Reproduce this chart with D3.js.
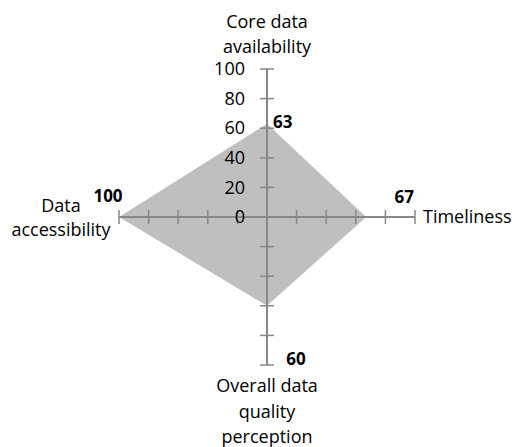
<!DOCTYPE html>
<html><head><meta charset="utf-8">
<script src="https://cdn.jsdelivr.net/npm/d3@7"></script>
<style>html,body{margin:0;padding:0;background:#fff;} svg{display:block;}</style>
</head><body>
<svg id="c" width="514" height="447"></svg>
<script>
const categories = ["Core data availability", "Timeliness", "Overall data quality perception", "Data accessibility"];
const categoryLines = [["Core data", "availability"], ["Timeliness"], ["Overall data", "quality", "perception"], ["Data", "accessibility"]];
const values = [63, 67, 60, 100];
const tickValues = [0, 20, 40, 60, 80, 100];
const tickLabels = ["0", "20", "40", "60", "80", "100"];

// layout / style config
const cx = 267, cy = 217, R = 148;
const font = "'Open Sans', sans-serif";
const labelOffsets = [[6, 4, "start"], [38, -14, "middle"], [29, 59, "middle"], [-11, -15, "middle"]];
const catLayout = [
  {dx: 0, dy: -41, anchor: "middle", lh: 24.5},
  {dx: 8, dy: 6, anchor: "start", lh: 25},
  {dx: 0, dy: 27, anchor: "middle", lh: 25.5},
  {dx: -58, dy: -5, anchor: "middle", lh: 23.5}
];

const svg = d3.select("#c");
const r = d3.scaleLinear().domain([0, 100]).range([0, R]);
const angle = d3.scalePoint().domain(categories).range([0, 2 * Math.PI * 3 / 4]);
const pt = (cat, v) => {
  const a = angle(cat);
  return [cx + r(v) * Math.sin(a), cy - r(v) * Math.cos(a)];
};

// polygon
const data = categories.map((c, i) => ({cat: c, v: values[i]}));
svg.append("path")
  .attr("d", d3.line().x(d => pt(d.cat, d.v)[0]).y(d => pt(d.cat, d.v)[1]).curve(d3.curveLinearClosed)(data))
  .attr("fill", "#bfbfbf");

// axes
const axisColor = "#888888";
categories.forEach(c => {
  const [x1, y1] = pt(c, 0), [x2, y2] = pt(c, 100);
  svg.append("line").attr("x1", x1).attr("y1", y1).attr("x2", x2).attr("y2", y2)
    .attr("stroke", axisColor).attr("stroke-width", 2);
  const a = angle(c);
  const px = Math.cos(a), py = Math.sin(a);
  tickValues.filter(t => t > 0).forEach(t => {
    const [x, y] = pt(c, t);
    svg.append("line")
      .attr("x1", x - 7 * px).attr("y1", y - 7 * py)
      .attr("x2", x + 7 * px).attr("y2", y + 7 * py)
      .attr("stroke", axisColor).attr("stroke-width", 1.5);
  });
});

// tick labels on top axis
const yScale = d3.scaleLinear().domain([0, 100]).range([cy, cy - R]);
const ax = svg.append("g").attr("transform", `translate(${cx},0)`)
  .call(d3.axisLeft(yScale).tickValues(tickValues).tickFormat((d, i) => tickLabels[i]).tickSize(0).tickPadding(22));
ax.select(".domain").remove();
ax.selectAll("text").attr("font-family", font).attr("font-size", 18).attr("fill", "#000");

// data labels
data.forEach((d, i) => {
  const [x, y] = pt(d.cat, d.v);
  const o = labelOffsets[i];
  svg.append("text").attr("x", x + o[0]).attr("y", y + o[1]).attr("text-anchor", o[2])
    .attr("font-family", font).attr("font-weight", "bold").attr("font-size", 17).text(d.v);
});

// category labels
categories.forEach((c, i) => {
  const [x, y] = pt(c, 100);
  const L = catLayout[i];
  const lines = categoryLines[i];
  const t = svg.append("text").attr("text-anchor", L.anchor)
    .attr("font-family", font).attr("font-size", 18).attr("fill", "#000");
  lines.forEach((ln, j) => {
    t.append("tspan").attr("x", x + L.dx).attr("y", y + L.dy + j * L.lh).text(ln);
  });
});
</script>
</body></html>
